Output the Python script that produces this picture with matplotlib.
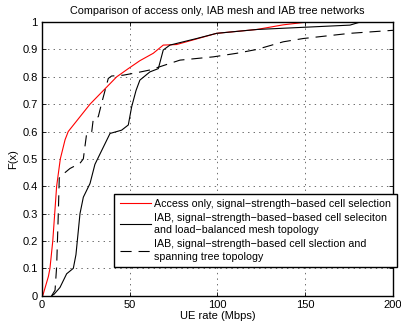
import matplotlib
matplotlib.use("Agg")
import matplotlib.pyplot as plt

plt.rcParams['font.family'] = ['Liberation Sans', 'DejaVu Sans']
plt.rcParams['lines.scale_dashes'] = False

# Access only, signal-strength-based cell selection
red_x = [0.6, 3.8, 4.7, 6.3, 7.4, 8.5, 10.6, 13.3, 15.1, 27.5, 42.7, 49.3, 55.9, 63.5, 69.2, 76.8, 99.6, 122.4, 137.5, 150.8]
red_y = [0.0, 0.07, 0.10, 0.20, 0.30, 0.40, 0.50, 0.57, 0.60, 0.70, 0.80, 0.83, 0.859, 0.886, 0.916, 0.918, 0.959, 0.973, 0.99, 1.0]

# IAB, load-balanced mesh topology
mesh_x = [5.7, 7.0, 10.4, 14.2, 18.0, 19.5, 21.8, 23.7, 27.5, 30.3, 34.1, 38.9, 45.5, 49.3, 51.2, 53.7, 55.9, 61.6, 66.4, 69.2, 73.0, 88.2, 99.6, 122.4, 175.5, 181.2, 200.0]
mesh_y = [0.0, 0.005, 0.03, 0.08, 0.10, 0.15, 0.30, 0.36, 0.41, 0.48, 0.53, 0.593, 0.605, 0.624, 0.69, 0.75, 0.788, 0.818, 0.83, 0.898, 0.916, 0.94, 0.959, 0.973, 0.989, 1.0, 1.0]

# IAB, spanning tree topology
tree_x = [5.7, 7.6, 8.5, 9.4, 10.0, 11.4, 16.1, 21.8, 23.7, 24.1, 25.6, 28.5, 29.4, 32.2, 34.1, 37.9, 39.8, 46.4, 54.1, 61.6, 67.3, 73.0, 78.7, 97.7, 111.0, 122.4, 137.5, 148.9, 175.5, 200.0]
tree_y = [0.0, 0.02, 0.106, 0.289, 0.43, 0.44, 0.465, 0.484, 0.50, 0.52, 0.593, 0.60, 0.648, 0.654, 0.703, 0.794, 0.803, 0.806, 0.815, 0.825, 0.837, 0.849, 0.861, 0.873, 0.886, 0.90, 0.928, 0.94, 0.959, 0.97]

labels = [
    "Access only, signal\u2212strength\u2212based cell selection",
    "IAB, signal\u2212strength\u2212based\u2212based cell seleciton\nand load\u2212balanced mesh topology",
    "IAB, signal\u2212strength\u2212based cell slection and\nspanning tree topology",
]
x_ticks = [0, 50, 100, 150, 200]
y_ticks = [0, 0.1, 0.2, 0.3, 0.4, 0.5, 0.6, 0.7, 0.8, 0.9, 1]
y_ticklabels = ["0", "0.1", "0.2", "0.3", "0.4", "0.5", "0.6", "0.7", "0.8", "0.9", "1"]

fig = plt.figure(figsize=(4.01, 3.30), dpi=100)
ax = fig.add_axes([0.104, 0.104, 0.876, 0.829])

ax.plot(red_x, red_y, color='#ff0000', lw=0.8, label=labels[0])
ax.plot(mesh_x, mesh_y, color='black', lw=0.8, label=labels[1])
ax.plot(tree_x, tree_y, color='black', lw=0.8, linestyle=(0, (8, 5)), label=labels[2])

ax.set_xlim(0, 200)
ax.set_ylim(0, 1)
ax.set_xticks(x_ticks)
ax.set_yticks(y_ticks)
ax.set_yticklabels(y_ticklabels)
ax.tick_params(direction='in', top=True, right=True, labelsize=8, length=3, width=0.6, pad=3)
ax.grid(True, linestyle=(0, (1, 3)), color='#555555', lw=0.6)
for s in ax.spines.values():
    s.set_linewidth(1.0)

ax.set_title("Comparison of access only, IAB mesh and IAB tree networks", fontsize=7.8, pad=6)
ax.set_xlabel("UE rate (Mbps)", fontsize=8, labelpad=1)
ax.set_ylabel("F(x)", fontsize=8, labelpad=3)

leg = ax.legend(loc='lower right', bbox_to_anchor=(1.0105, 0.1038), fontsize=7.7, frameon=True,
                fancybox=False, edgecolor='black', framealpha=1, handlelength=2.9,
                handletextpad=0.35, borderpad=0.5, labelspacing=0.35, borderaxespad=0)
leg.get_frame().set_linewidth(1.0)
for t in leg.get_texts():
    t.set_linespacing(1.35)

fig.savefig("out.png", dpi=100)
